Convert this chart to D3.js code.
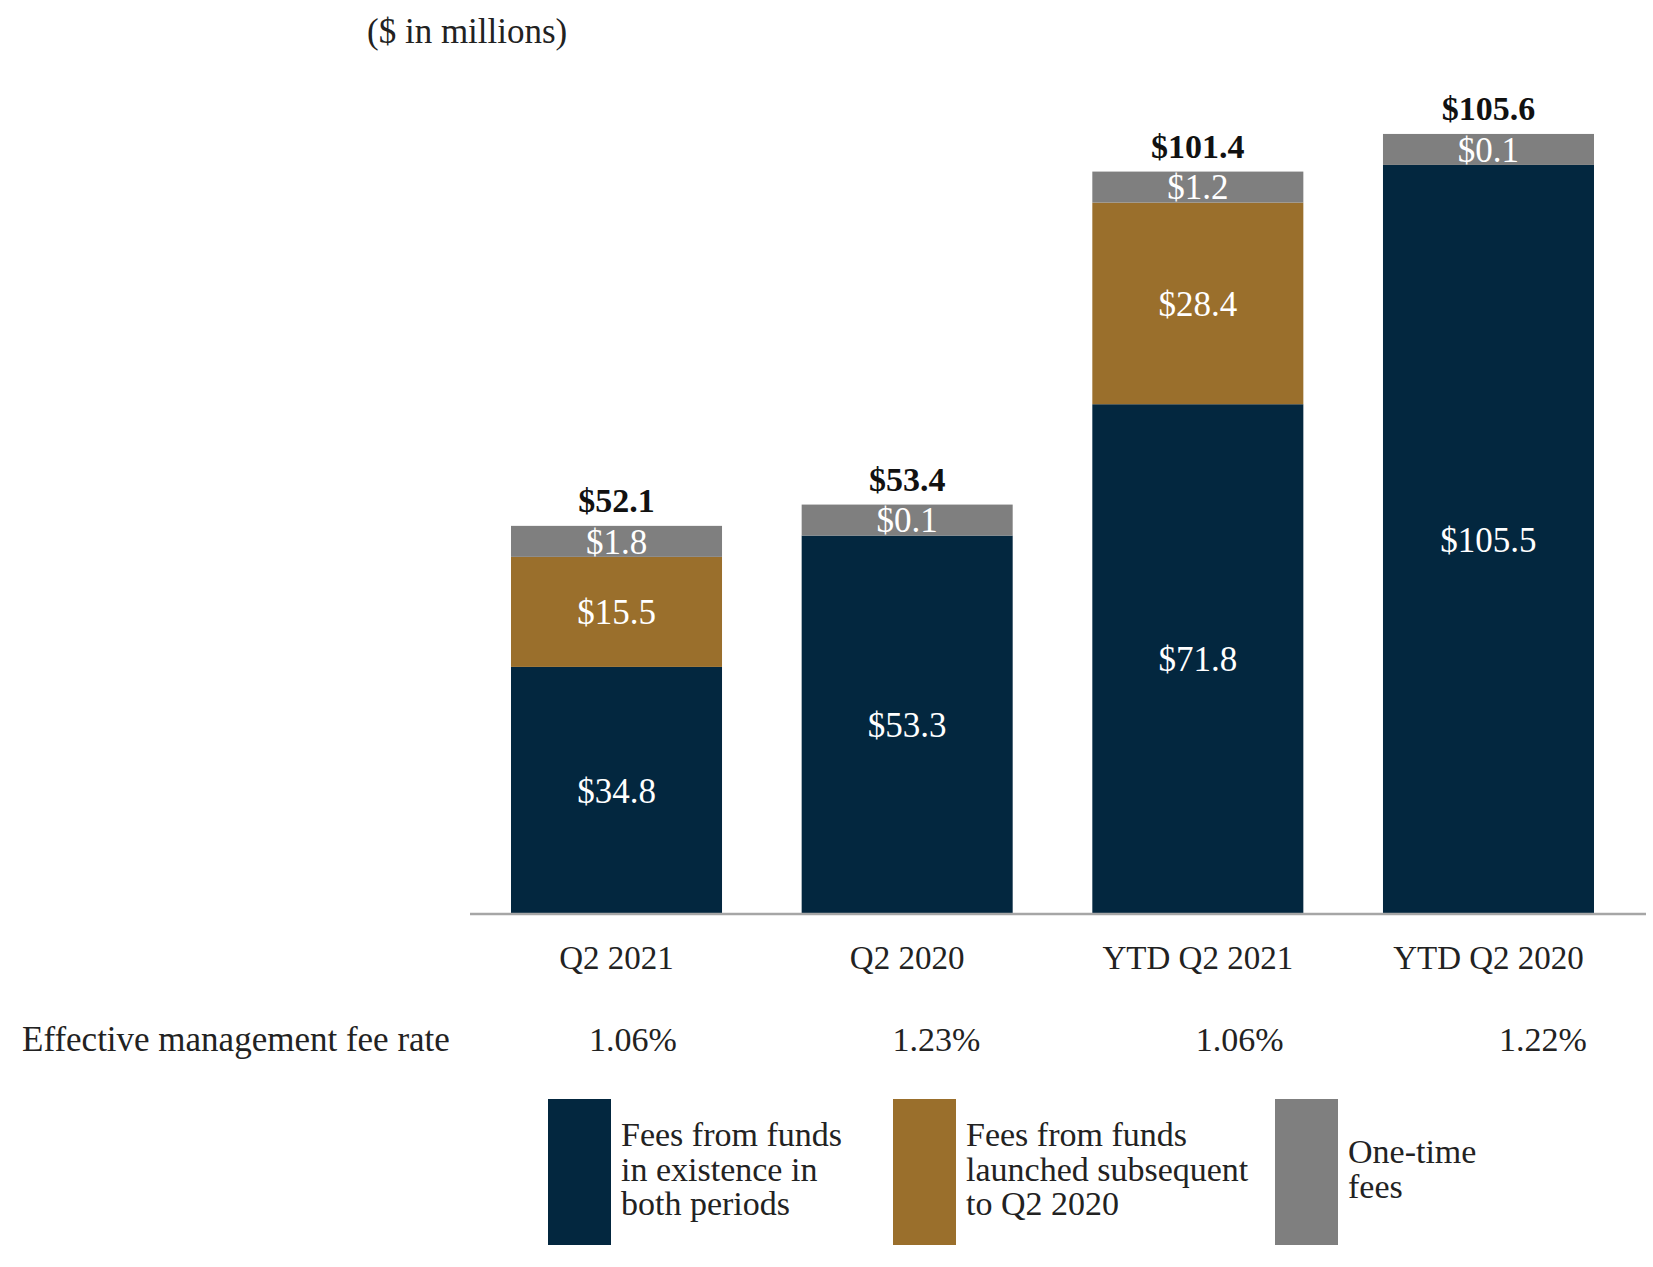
<!DOCTYPE html>
<html lang="en">
  <head>
    <meta charset="UTF-8" />
    <script src="https://d3js.org/d3.v7.min.js"></script>
    <title>Management fees</title>
    <style>
      body { margin: 0; background: #fff; }
      svg text { font-family: "Liberation Serif", "Times New Roman", serif; }
    </style>
  </head>
  <body>
    <svg width="1653" height="1267"></svg>
    <script>
      // data
      var categories = ["Q2 2021", "Q2 2020", "YTD Q2 2021", "YTD Q2 2020"];
      var existingFunds = [34.8, 53.3, 71.8, 105.5];
      var newFunds = [15.5, 0, 28.4, 0];
      var oneTimeFees = [1.8, 0.1, 1.2, 0.1];
      var totals = [52.1, 53.4, 101.4, 105.6];
      var feeRates = ["1.06%", "1.23%", "1.06%", "1.22%"];
      var seriesKeys = ["existing", "launched", "oneTime"];
      var legendLabels = [
        ["Fees from funds", "in existence in", "both periods"],
        ["Fees from funds", "launched subsequent", "to Q2 2020"],
        ["One-time", "fees"]
      ];

      var svg = d3.select("svg");
      var baseY = 914;
      var minSeg = 31; // keeps the small one-time fee box readable

      var x = d3.scaleBand().domain(categories).range([511, 1594]).paddingInner(0.274).paddingOuter(0);
      var y = d3.scaleLinear().domain([0, 110]).range([baseY, baseY - 110 * 7.1]);
      var color = d3.scaleOrdinal().domain(seriesKeys).range(["#03273f", "#9a6f2c", "#7f7f7f"]);

      var rows = categories.map(function (c, i) {
        return { cat: c, existing: existingFunds[i], launched: newFunds[i], oneTime: oneTimeFees[i], total: totals[i] };
      });
      var stacked = d3.stack().keys(seriesKeys)(rows);

      // build segment pixel boxes, one-time segment gets a minimum height
      var segs = [];
      rows.forEach(function (r, i) {
        var top = baseY;
        seriesKeys.forEach(function (k, j) {
          var v = r[k];
          if (v <= 0) return;
          var h = baseY - y(stacked[j][i][1] - stacked[j][i][0]);
          if (k === "oneTime") h = Math.max(h, minSeg);
          segs.push({ cat: r.cat, key: k, value: v, y0: top - h, h: h });
          top -= h;
        });
        r.top = top;
      });

      svg.append("text")
        .attr("x", 367).attr("y", 43)
        .attr("font-size", 35).attr("fill", "#222")
        .text("($ in millions)");

      svg.append("g").selectAll("rect")
        .data(segs).enter().append("rect")
        .attr("x", function (d) { return x(d.cat); })
        .attr("y", function (d) { return d.y0; })
        .attr("width", x.bandwidth())
        .attr("height", function (d) { return d.h; })
        .attr("fill", function (d) { return color(d.key); });

      svg.append("g").selectAll("text")
        .data(segs).enter().append("text")
        .attr("x", function (d) { return x(d.cat) + x.bandwidth() / 2; })
        .attr("y", function (d) { return d.y0 + d.h / 2; })
        .attr("dy", "0.35em")
        .attr("text-anchor", "middle")
        .attr("font-size", 35)
        .attr("fill", "#fff")
        .text(function (d) { return "$" + d.value.toFixed(1); });

      svg.append("g").selectAll("text")
        .data(rows).enter().append("text")
        .attr("x", function (d) { return x(d.cat) + x.bandwidth() / 2; })
        .attr("y", function (d) { return d.top - 14; })
        .attr("text-anchor", "middle")
        .attr("font-size", 34)
        .attr("font-weight", "bold")
        .attr("fill", "#111")
        .text(function (d) { return "$" + d.total.toFixed(1); });

      // baseline axis
      var axis = svg.append("g")
        .attr("transform", "translate(0," + baseY + ")")
        .call(d3.axisBottom(x).tickSize(0).tickPadding(0));
      axis.select(".domain").remove();
      axis.insert("line", ":first-child")
        .attr("x1", 470).attr("x2", 1646)
        .attr("stroke", "#a6a6a6").attr("stroke-width", 2.5);
      axis.selectAll(".tick text")
        .attr("y", 55).attr("dy", 0)
        .attr("font-size", 33)
        .attr("font-family", "Liberation Serif, Times New Roman, serif")
        .attr("fill", "#222");

      // effective fee rate row
      var xr = d3.scalePoint().domain(categories).range([633, 1543]);
      svg.append("text")
        .attr("x", 22).attr("y", 1051)
        .attr("font-size", 35).attr("fill", "#222")
        .text("Effective management fee rate");
      svg.append("g").selectAll("text")
        .data(categories).enter().append("text")
        .attr("x", function (d) { return xr(d); })
        .attr("y", 1051)
        .attr("text-anchor", "middle")
        .attr("font-size", 34).attr("fill", "#222")
        .text(function (d, i) { return feeRates[i]; });

      // legend
      var legendX = [548, 893, 1275];
      var legend = svg.append("g").selectAll("g")
        .data(seriesKeys).enter().append("g")
        .attr("transform", function (d, i) { return "translate(" + legendX[i] + ",1099)"; });
      legend.append("rect")
        .attr("width", 63).attr("height", 146)
        .attr("fill", function (d) { return color(d); });
      legend.each(function (d, i) {
        var lines = legendLabels[i];
        var startY = i === 2 ? 64 : 47;
        d3.select(this).selectAll("text")
          .data(lines).enter().append("text")
          .attr("x", 73)
          .attr("y", function (l, j) { return startY + j * 34.5; })
          .attr("font-size", 34).attr("fill", "#222")
          .text(function (l) { return l; });
      });
    </script>
  </body>
</html>
